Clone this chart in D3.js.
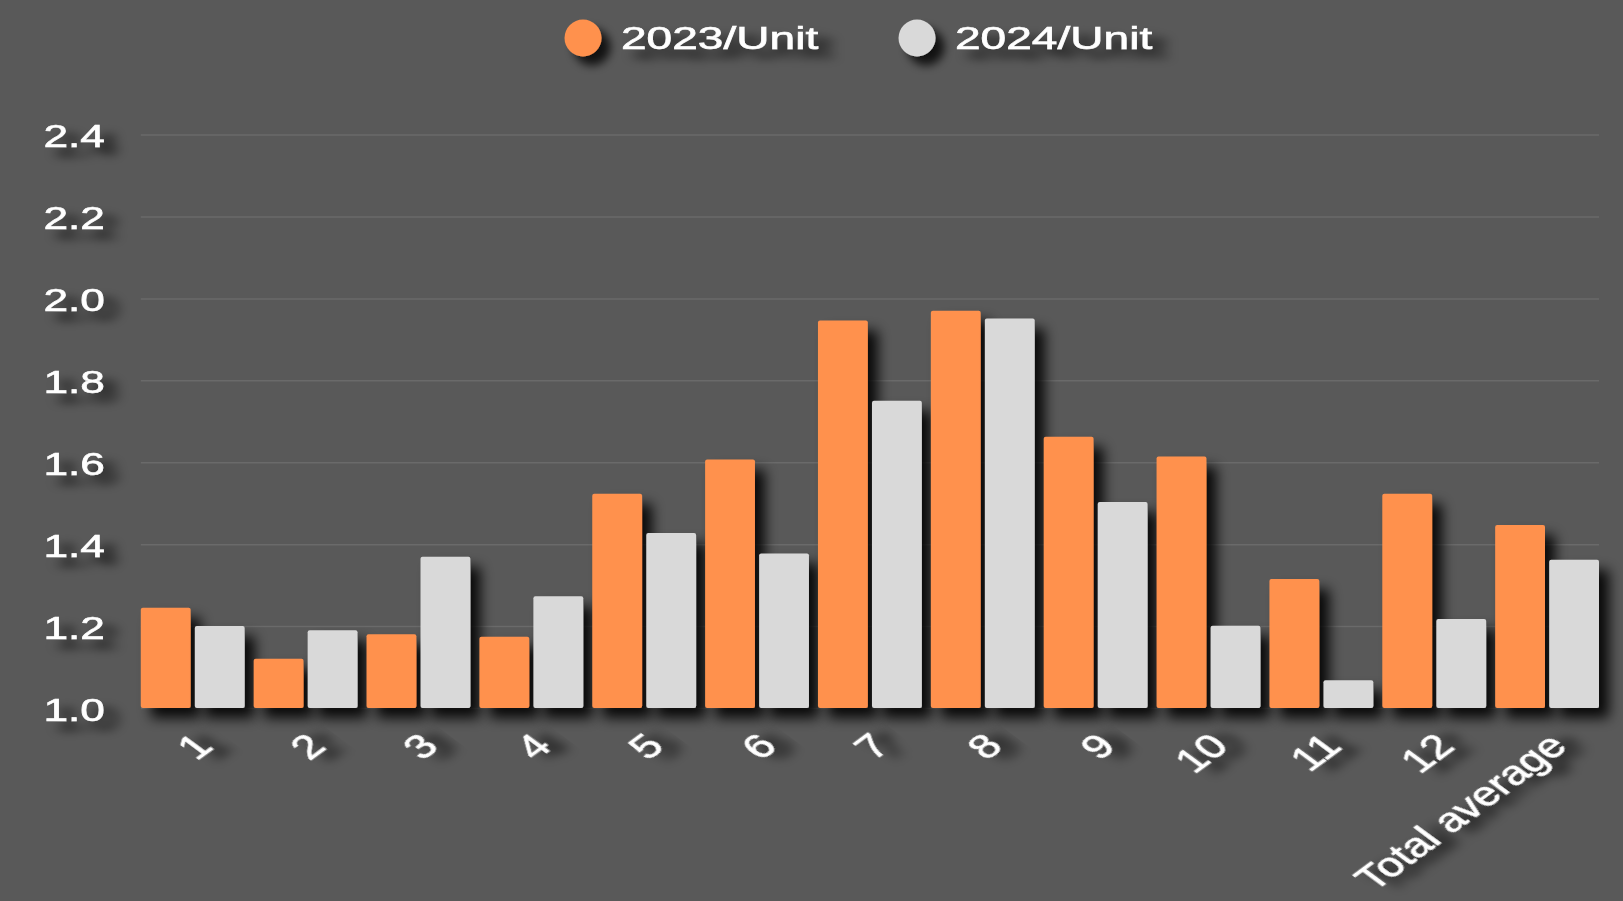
<!DOCTYPE html>
<html>
<head>
<meta charset="utf-8">
<script src="https://cdn.jsdelivr.net/npm/d3@7"></script>
<style>
  html, body { margin: 0; padding: 0; background: #595959; }
  svg { display: block; }
  text { font-family: "Liberation Sans", Arial, sans-serif; fill: #ffffff; stroke: #ffffff; stroke-width: 0.6px; }
</style>
</head>
<body>
<svg class="chart"></svg>
<script>
// data
var categories = ["1","2","3","4","5","6","7","8","9","10","11","12","Total average"];
var seriesNames = ["2023/Unit", "2024/Unit"];
var values2023 = [1.245, 1.12, 1.18, 1.174, 1.523, 1.607, 1.946, 1.970, 1.662, 1.614, 1.315, 1.523, 1.447];
var values2024 = [1.20, 1.19, 1.369, 1.273, 1.427, 1.377, 1.750, 1.951, 1.503, 1.201, 1.068, 1.217, 1.362];
var yTicks = [1.0, 1.2, 1.4, 1.6, 1.8, 2.0, 2.2, 2.4];
var colors = ["#ff914d", "#d9d9d9"];

var frameWidth = 1623;
var frameHeight = 901;
var lmargin = 140.8, plotRight = 1599;
var tmargin = 134.6, plotBottom = 708;

var svg = d3.select(".chart").attr("width", frameWidth).attr("height", frameHeight);

var defs = svg.append("defs");
// bar shadow: big user-space region so short bars are not clipped
defs.append("filter").attr("id", "barShadow")
  .attr("filterUnits", "userSpaceOnUse")
  .attr("x", -400).attr("y", -400).attr("width", 2600).attr("height", 1800)
  .append("feDropShadow")
  .attr("dx", 10).attr("dy", 10).attr("stdDeviation", 6.5)
  .attr("flood-color", "#000").attr("flood-opacity", 0.9);
defs.append("filter").attr("id", "textShadow")
  .attr("x", "-50%").attr("y", "-80%").attr("width", "220%").attr("height", "320%")
  .append("feDropShadow")
  .attr("dx", 9).attr("dy", 9).attr("stdDeviation", 5)
  .attr("flood-color", "#000").attr("flood-opacity", 0.8);

svg.append("rect").attr("width", frameWidth).attr("height", frameHeight).attr("fill", "#595959");

var table = categories.map(function(c, i) {
  return { cat: c, vals: [values2023[i], values2024[i]] };
});

var x0 = d3.scaleBand().domain(categories).range([lmargin, plotRight]).paddingInner(0.08).paddingOuter(0);
var x1 = d3.scaleBand().domain(seriesNames).range([0, x0.bandwidth()]).paddingInner(0.077);
var y = d3.scaleLinear().domain([1.0, 2.4]).range([plotBottom, tmargin]);

// gridlines
svg.append("g")
  .attr("transform", "translate(" + lmargin + ",0)")
  .call(d3.axisLeft(y).tickValues(yTicks).tickSize(-(plotRight - lmargin)).tickFormat(""))
  .call(function(g) {
    g.select(".domain").remove();
    g.selectAll("line").attr("stroke", "#6a6a6a").attr("stroke-width", 1.5);
  });

// bars
var groups = svg.append("g").selectAll("g").data(table).enter().append("g")
  .attr("transform", function(d) { return "translate(" + x0(d.cat) + ",0)"; });

groups.selectAll("rect")
  .data(function(d) { return d.vals.map(function(v, k) { return { key: seriesNames[k], v: v, k: k }; }); })
  .enter().append("rect")
  .attr("x", function(d) { return x1(d.key); })
  .attr("y", function(d) { return y(d.v); })
  .attr("width", x1.bandwidth())
  .attr("height", function(d) { return y(1.0) - y(d.v); })
  .attr("rx", 2)
  .attr("fill", function(d) { return colors[d.k]; })
  .attr("filter", "url(#barShadow)");

// y axis labels
svg.append("g")
  .attr("transform", "translate(" + lmargin + ",0)")
  .call(d3.axisLeft(y).tickValues(yTicks).tickSize(0).tickFormat(d3.format(".1f")))
  .call(function(g) {
    g.select(".domain").remove();
    g.selectAll("text")
      .attr("x", 0)
      .attr("dy", null)
      .attr("dominant-baseline", "central")
      .attr("transform", "translate(-36,1) scale(1.38,1)")
      .style("font-size", "32px")
      .style("fill", "#fff")
      .attr("text-anchor", "end")
      .attr("filter", "url(#textShadow)");
  });

// x axis labels
svg.append("g")
  .attr("transform", "translate(0," + plotBottom + ")")
  .call(d3.axisBottom(x0).tickSize(0))
  .call(function(g) {
    g.select(".domain").remove();
    g.selectAll("text")
      .attr("y", 0)
      .attr("dy", null)
      .attr("transform", "translate(22,40) scale(1.35,1) rotate(-45)")
      .attr("text-anchor", "end")
      .style("font-size", "34px")
      .style("fill", "#fff")
      .attr("filter", "url(#textShadow)");
  });

// legend
var legendX = [583, 917];
var legend = svg.append("g").selectAll("g").data(seriesNames).enter().append("g")
  .attr("transform", function(d, i) { return "translate(" + legendX[i] + ",38)"; });
legend.append("circle")
  .attr("r", 18.5)
  .attr("fill", function(d, i) { return colors[i]; })
  .attr("filter", "url(#textShadow)");
legend.append("text")
  .attr("transform", "translate(38,10.5) scale(1.44,1)")
  .style("font-size", "32px")
  .attr("filter", "url(#textShadow)")
  .text(function(d) { return d; });
</script>
</body>
</html>
